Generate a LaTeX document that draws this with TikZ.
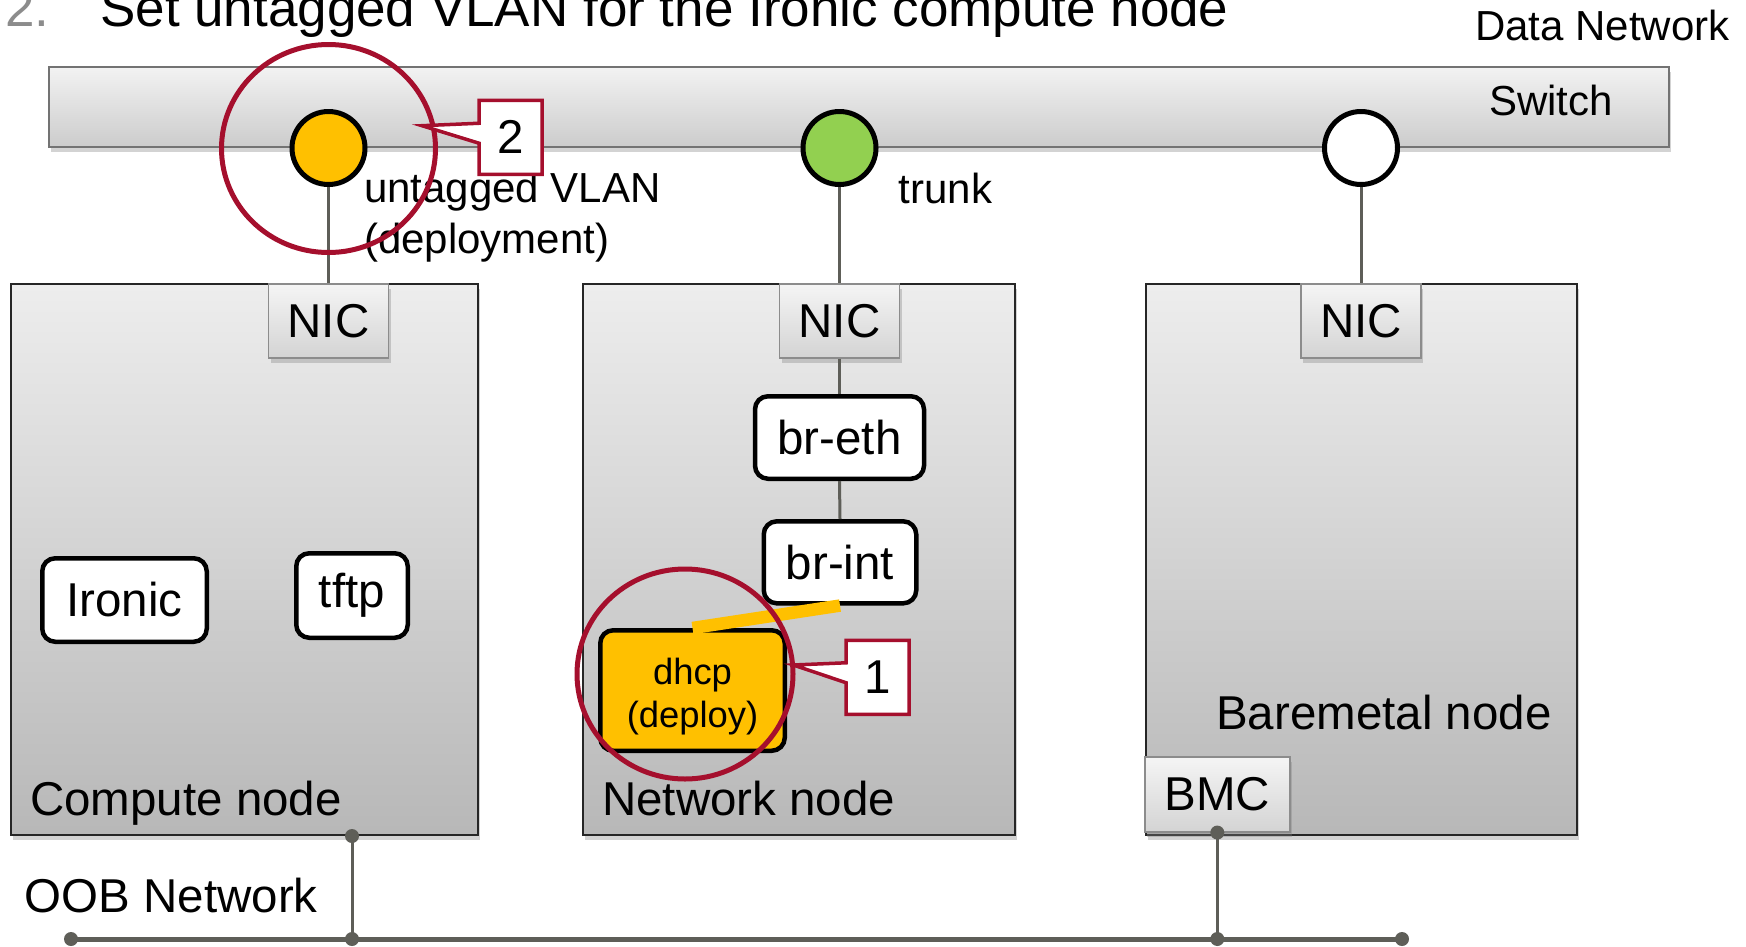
\documentclass[tikz,border=0pt]{standalone}
\usepackage{fontspec}
\setmainfont{Liberation Sans}
\usetikzlibrary{shapes.callouts,shadows}
\definecolor{portyellow}{HTML}{FFC000}
\definecolor{portgreen}{HTML}{92D050}
\definecolor{markred}{HTML}{A50F2D}
\definecolor{wiregray}{HTML}{5E5E58}
\definecolor{titlegray}{HTML}{8C8C8C}
\newcommand\lblfont{\fontsize{47.5}{57}\selectfont}
\newcommand\smlfont{\fontsize{42}{50.5}\selectfont}
\newcommand\dhcpfont{\fontsize{36.4}{43.3}\selectfont}
\newcommand\ttlfont{\fontsize{53}{64}\selectfont}
\tikzset{
  softshadow/.style={drop shadow={shadow xshift=2pt,shadow yshift=-5pt,opacity=.35}},
  bar/.style={rectangle,draw=black!55,line width=2pt,top color=black!5,bottom color=black!20,
    softshadow,inner sep=0pt},
  host/.style={rectangle,draw=black!85,line width=2pt,top color=black!7,bottom color=black!28,
    softshadow,minimum height=551pt,inner sep=0pt},
  nicbox/.style={rectangle,draw=black!45,line width=1.5pt,top color=black!4,bottom color=black!17,
    softshadow,minimum width=120pt,minimum height=74pt,font=\lblfont,inner sep=0pt},
  svc/.style={rectangle,rounded corners=13pt,draw=black,line width=4.5pt,fill=white,
    font=\lblfont,inner sep=0pt},
  port/.style={circle,draw=black,line width=5pt,minimum size=73pt,inner sep=0pt},
  link/.style={wiregray,line width=3pt},
  redring/.style={markred,line width=5pt},
  numtag/.style={rectangle callout,draw=markred,line width=3.5pt,fill=white,
    minimum width=63pt,minimum height=74pt,font=\lblfont,callout pointer width=20pt,inner sep=0pt},
  txt/.style={anchor=base west,inner sep=0pt,font=\lblfont},
  joint/.style={wiregray}
}
\begin{document}
\begin{tikzpicture}[x=1pt,y=-1pt]
  \useasboundingbox (0,0) rectangle (1746,946);
  \clip (0,0) rectangle (1746,946);
  % title
  \node (num) at (5,26) [txt,font=\ttlfont,text=titlegray] {2.};
  \node (title) at (100,26) [txt,font=\ttlfont] {Set untagged VLAN for the Ironic compute node};
  \node (datanet) at (1475,40.5) [txt,font=\smlfont] {Data Network};
  % switch
  \node (switch) at (859,107) [bar,minimum width=1620pt,minimum height=80pt] {};
  \node (switchlbl) at (1551,115) [anchor=base,inner sep=0pt,font=\smlfont] {Switch};
  % hosts
  \node (compute) at (244.5,559.5) [host,minimum width=467pt] {};
  \node (network) at (798.75,559.5) [host,minimum width=431.5pt] {};
  \node (baremetal) at (1361.35,559.5) [host,minimum width=431.3pt] {};
  \node (computelbl) at (30,815) [txt] {Compute node};
  \node (networklbl) at (602,815) [txt] {Network node};
  \node (baremetallbl) at (1216,729) [txt] {Baremetal node};
  % nics
  \node (nic1) at (328.5,320.75) [nicbox] {NIC};
  \node (nic2) at (839.5,320.75) [nicbox] {NIC};
  \node (nic3) at (1361,320.75) [nicbox] {NIC};
  \node (bmc) at (1217.3,794.3) [nicbox,minimum width=145pt,minimum height=75pt] {BMC};
  % services
  \node (ironic) at (124.5,600) [svc,minimum width=164.5pt,minimum height=83.5pt] {Ironic};
  \node (tftp) at (352,595.5) [svc,minimum width=111.5pt,minimum height=84.5pt] {tftp};
  \node (breth) at (839.5,437.5) [svc,minimum width=169pt,minimum height=82.5pt] {br-eth};
  \node (brint) at (840,562.3) [svc,minimum width=152.5pt,minimum height=82pt] {br-int};
  \node (dhcp) at (692.5,690.5) [svc,fill=portyellow,font=\dhcpfont,align=center,
    minimum width=184.5pt,minimum height=120.5pt] {\rule{0pt}{38pt}dhcp\\(deploy)};
  % ports
  \node (p1) at (328.5,148) [port,fill=portyellow] {};
  \node (p2) at (839.5,148) [port,fill=portgreen] {};
  \node (p3) at (1361,148) [port,fill=white] {};
  \node (vlan1) at (364,202) [txt,font=\smlfont] {untagged VLAN};
  \node (vlan2) at (364,253) [txt,font=\smlfont] {(deployment)};
  \node (trunk) at (898.5,203) [txt,font=\smlfont] {trunk};
  % links
  \draw[link] (p1.south) -- (nic1.north);
  \draw[link] (p2.south) -- (nic2.north);
  \draw[link] (p3.south) -- (nic3.north);
  \draw[link] (nic2.south) -- (breth.north);
  \draw[link] (breth.south) -- (brint.north);
  \draw[portyellow,line width=12.5pt] (dhcp.north) -- (brint.south);
  % OOB network
  \node (oob) at (24.5,912) [txt] {OOB Network};
  \coordinate (oobw) at (71,939);
  \coordinate (oobe) at (1402,939);
  \coordinate (cntap) at (352,836);
  \coordinate (oobc) at (cntap |- oobw);
  \coordinate (oobb) at (bmc.south |- oobw);
  \draw[link] (cntap) -- (oobc);
  \draw[link] (bmc.south) -- (oobb);
  \draw[wiregray,line width=5pt] (oobw) -- (oobe);
  \foreach \pt in {oobw,oobe,oobc,oobb,cntap,bmc.south}
    \fill[joint] (\pt) circle[radius=7];
  % marks
  \draw[redring] (328.5,148.5) ellipse[x radius=107,y radius=104];
  \draw[redring] (685,674) ellipse[x radius=108,y radius=105];
  \coordinate (tip2) at (422,125.7);
  \coordinate (tip1) at (793.3,665);
  \node (tag2) at (510.6,137.4) [numtag,callout absolute pointer={(tip2)}] {2};
  \node (tag1) at (877.7,677.4) [numtag,callout absolute pointer={(tip1)}] {1};
\end{tikzpicture}
\end{document}
